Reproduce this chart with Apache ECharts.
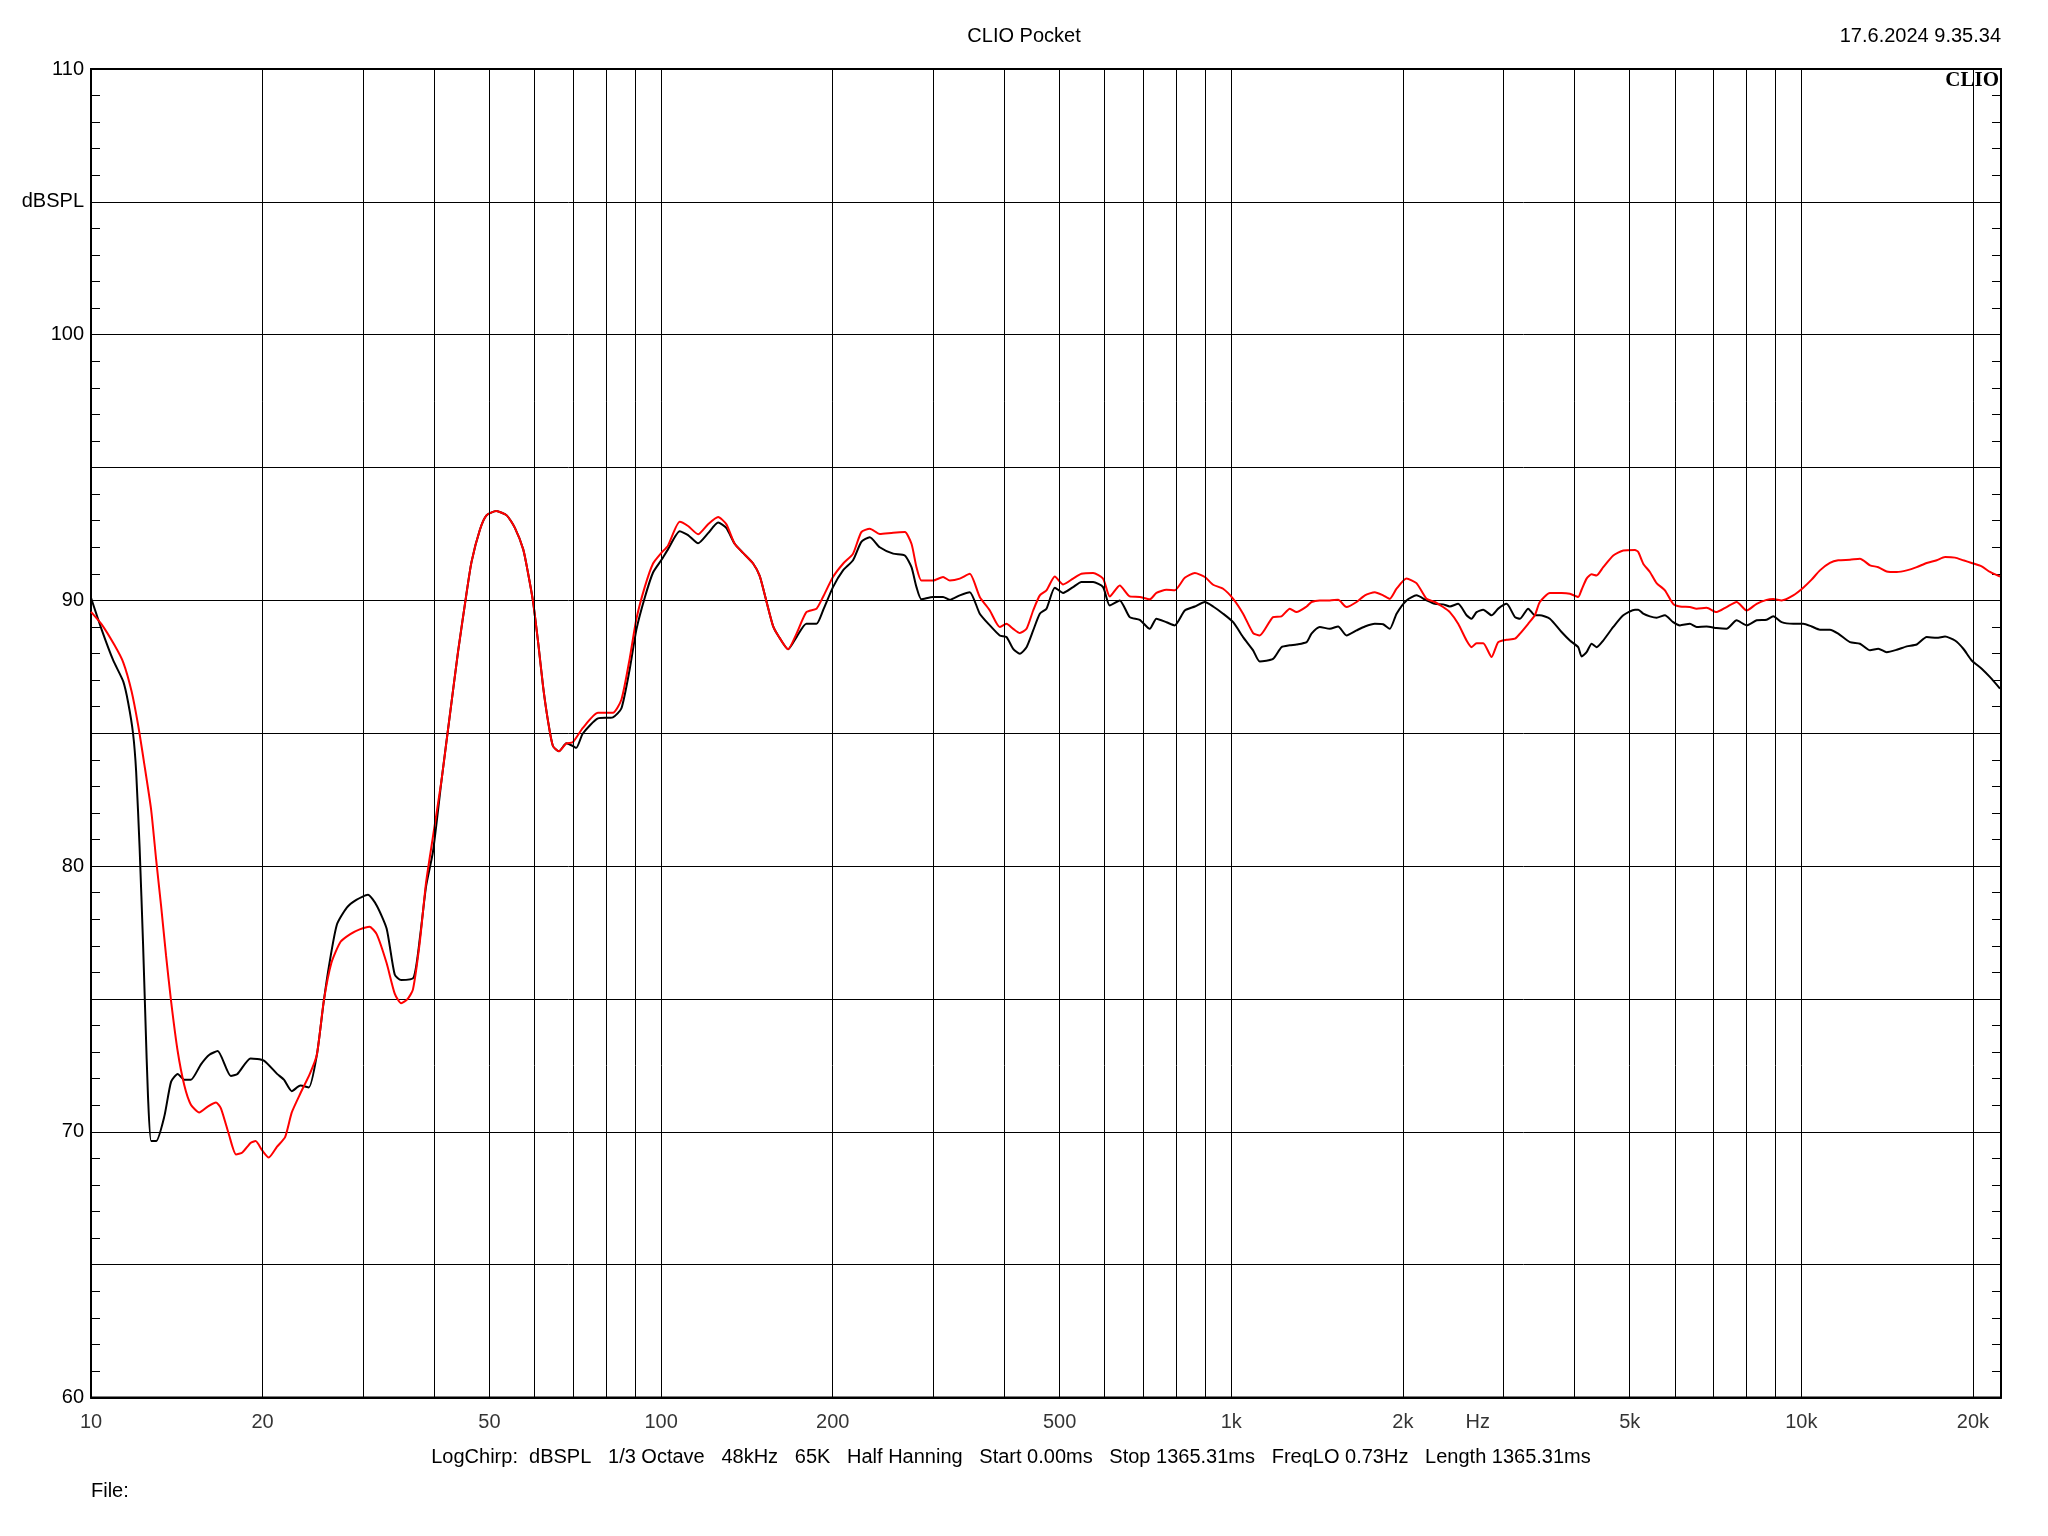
<!DOCTYPE html>
<html>
<head>
<meta charset="utf-8">
<script src="https://cdn.jsdelivr.net/npm/echarts@6/dist/echarts.min.js"></script>
<style>
html,body{margin:0;padding:0;background:#fff;}
#chart{width:2048px;height:1536px;}
</style>
</head>
<body>
<div id="chart"></div>
<script>
// ---- Data ----
const blackFreq = [10,10.44,10.94,11.39,11.62,11.85,12.0,12.17,12.34,12.46,12.59,12.75,13.01,13.45,13.82,14.19,14.58,14.97,15.59,16.13,16.68,17.59,18.07,19.05,20.1,21.2,21.8,22.5,23.3,24.1,24.9,25.6,26.2,27.0,28.1,29.2,30.6,31.7,33.0,34.1,35.0,36.8,37.8,38.7,39.8,41.2,42.6,44.05,45.55,46.5,48.1,49.4,51.4,53.6,55.4,57.3,58.4,59.6,60.9,62.1,63.4,64.6,66.2,68.2,70.0,71.0,72.9,77.5,82.3,85.2,88.1,90.5,93.6,96.8,100.1,102.8,107.8,111.5,116.1,120.9,125.9,130.1,134.6,139.2,145.0,148.9,153.0,157.2,160.3,167.0,172.8,179.8,187.3,192.3,200.2,208.5,217.1,224.5,232.3,241.8,255.3,267.6,274.9,280.5,286.2,299.9,312.3,320.9,334.1,347.8,362.2,377.2,392.6,403.4,414.5,425.8,437.5,449.4,461.6,474.2,490.4,507.2,528,546.1,572.4,596,612.3,637.5,663.7,691.2,719.6,739.3,769.7,796.1,829,863.4,898.9,929.5,967.8,1008,1049,1092.5,1122,1184,1225,1267,1302,1356,1383,1430,1489,1540,1593,1659,1716,1786,1847,1897,1950,2030,2113,2201,2276,2353,2418,2501,2587,2640,2694,2767,2862,2940,3041,3146,3210,3318,3409,3478,3622,3797,3927,4061,4117,4201,4287,4374,4493,4679,4872,5107,5176,5281,5425,5573,5764,5959,6124,6375,6551,6820,7101,7393,7701,8017,8349,8692,8929,9235,9679,10078,10424,10780,11224,11607,12170,12671,13198,13647,14116,14701,15307,15937,16592,17277,17868,18601,19238,19900,20720,21430,22310];
const blackDb = [90.1,88.9,87.74,86.95,86.15,85.0,83.56,80.68,77.07,74.19,71.31,69.65,69.65,70.59,71.89,72.18,71.96,71.96,72.54,72.9,73.04,72.1,72.18,72.76,72.68,72.18,71.96,71.53,71.74,71.67,72.9,74.91,76.35,77.8,78.44,78.73,78.92,78.52,77.65,75.92,75.71,75.8,77.4,79.24,80.55,83.24,85.67,88.09,90.24,91.45,92.66,93.2,93.36,93.2,92.73,91.92,91.05,89.97,88.36,86.74,85.4,84.52,84.32,84.62,84.52,84.45,84.99,85.56,85.6,85.94,87.42,88.9,90.1,91.05,91.52,91.92,92.6,92.46,92.15,92.53,92.93,92.73,92.13,91.79,91.39,90.92,89.97,89.03,88.69,88.16,88.62,89.12,89.12,89.62,90.5,91.13,91.51,92.2,92.38,92.0,91.76,91.69,91.25,90.5,90.04,90.13,90.13,90.02,90.19,90.31,89.5,89.06,88.68,88.62,88.18,87.99,88.24,88.87,89.5,89.69,90.48,90.28,90.5,90.69,90.69,90.5,89.81,90.0,89.37,89.27,88.93,89.31,89.18,89.06,89.62,89.77,89.94,89.77,89.5,89.18,88.62,88.12,87.7,87.8,88.24,88.31,88.34,88.43,88.75,89.0,88.93,89.02,88.68,88.87,89.02,89.12,89.1,88.93,89.5,90.0,90.19,90.0,89.87,89.85,89.77,89.87,89.44,89.31,89.56,89.65,89.44,89.69,89.87,89.37,89.31,89.69,89.44,89.44,89.31,88.81,88.49,88.24,87.89,88.05,88.37,88.24,88.49,89.0,89.44,89.65,89.65,89.5,89.4,89.35,89.44,89.18,89.06,89.12,89.0,89.02,88.96,88.93,89.25,89.06,89.25,89.27,89.4,89.18,89.12,89.12,89.02,88.9,88.9,88.75,88.43,88.37,88.12,88.18,88.05,88.14,88.27,88.34,88.62,88.59,88.64,88.49,88.18,87.74,87.43,87.11,86.68];

const redFreq = [10,10.44,11.0,11.39,11.78,12.1,12.4,12.75,13.01,13.27,13.54,13.82,14.19,14.58,14.97,15.48,16.02,16.57,16.9,17.47,17.96,18.43,19.05,19.44,19.98,20.5,21.2,21.9,22.5,23.3,24.2,24.9,25.6,26.4,27.4,28.5,29.6,30.8,31.7,33.0,34.1,35.0,35.9,36.7,37.7,38.7,39.7,41.2,42.6,44.05,45.55,46.5,48.1,49.4,51.4,53.6,55.4,57.3,58.4,59.6,60.9,62.1,63.4,64.6,66.2,68.2,70.0,72.9,77.5,82.3,85.2,88.1,90.5,93.6,96.8,100.1,102.8,107.8,111.5,116.1,120.9,125.9,130.1,134.6,139.2,145.0,148.9,153.0,157.2,160.3,167.0,172.8,179.8,187.3,192.3,200.2,208.5,217.1,224.5,232.3,241.8,255.3,267.6,274.9,280.5,286.2,299.9,312.3,320.9,334.1,347.8,362.2,377.2,392.6,403.4,414.5,425.8,437.5,449.4,461.6,474.2,490.4,507.2,528,546.1,572.4,596,612.3,637.5,663.7,691.2,719.6,739.3,769.7,796.1,829,863.4,898.9,929.5,967.8,1008,1049,1092.5,1122,1184,1225,1267,1302,1356,1383,1430,1489,1540,1593,1659,1716,1786,1847,1897,1950,2030,2113,2201,2276,2353,2418,2501,2587,2640,2694,2767,2862,2940,3041,3146,3210,3318,3409,3478,3622,3797,3927,4061,4117,4201,4287,4374,4493,4679,4872,5107,5176,5281,5425,5573,5764,5959,6124,6375,6551,6820,7101,7393,7701,8017,8349,8692,8929,9235,9679,10078,10424,10780,11224,11607,12170,12671,13198,13647,14116,14701,15307,15937,16592,17277,17868,18601,19238,19900,20720,21430,22310];
const redDb = [89.57,89.1,88.31,87.67,86.58,85.29,83.85,82.12,80.24,78.52,76.64,74.91,73.04,71.74,71.02,70.73,70.95,71.1,70.88,69.87,69.15,69.22,69.58,69.65,69.29,69.03,69.44,69.8,70.73,71.45,72.18,72.9,74.91,76.35,77.15,77.44,77.62,77.72,77.44,76.35,75.2,74.84,74.99,75.35,77.07,79.38,80.97,83.24,85.67,88.09,90.24,91.45,92.66,93.2,93.36,93.2,92.73,91.92,91.05,89.97,88.36,86.74,85.4,84.52,84.32,84.62,84.66,85.2,85.77,85.77,86.27,87.82,89.3,90.5,91.39,91.79,92.06,92.96,92.8,92.49,92.87,93.14,92.87,92.13,91.79,91.39,90.92,89.97,89.03,88.69,88.16,88.75,89.56,89.69,90.13,90.88,91.38,91.76,92.57,92.7,92.5,92.55,92.57,92.13,91.25,90.75,90.75,90.88,90.75,90.82,91.0,90.13,89.62,89.0,89.12,88.93,88.77,88.93,89.62,90.19,90.38,90.9,90.6,90.82,91.0,91.03,90.82,90.15,90.56,90.15,90.13,90.04,90.28,90.4,90.38,90.85,91.03,90.88,90.59,90.44,90.06,89.5,88.77,88.68,89.37,89.4,89.69,89.56,89.77,89.94,90.0,90.0,90.02,89.75,89.94,90.19,90.31,90.19,90.06,90.44,90.82,90.65,90.06,89.94,89.75,89.56,89.12,88.49,88.24,88.39,88.39,87.87,88.43,88.52,88.56,88.75,89.12,89.44,89.94,90.28,90.28,90.25,90.13,90.4,90.82,90.98,90.94,91.25,91.69,91.88,91.9,91.82,91.38,91.07,90.65,90.38,89.87,89.77,89.75,89.69,89.72,89.56,89.75,89.94,89.62,89.87,90.02,90.05,90.0,90.19,90.48,90.78,91.13,91.41,91.51,91.53,91.57,91.32,91.25,91.09,91.07,91.13,91.25,91.41,91.51,91.63,91.61,91.51,91.41,91.28,91.07,90.9];

// vertical grid lines between the decades
const gridFreqs = [20,30,40,50,60,70,80,90,200,300,400,500,600,700,800,900,2000,3000,4000,5000,6000,7000,8000,9000,20000];
// x tick labels
const xLabelFreqs = [10,20,50,100,200,500,1000,2000,2707,5000,10000,20000];
const xLabelTexts = ['10','20','50','100','200','500','1k','2k','Hz','5k','10k','20k'];

const FONT = '"Liberation Sans", Arial, sans-serif';
const FS = 20;
const chart = echarts.init(document.getElementById('chart'), null, {renderer:'canvas'});

const yCommon = {
  type:'value', min:60, max:110, interval:5,
  axisLine:{show:true, lineStyle:{color:'#000', width:2}},
  axisTick:{show:true, inside:true, length:9, lineStyle:{color:'#000', width:1}},
  minorTick:{show:true, splitNumber:5, length:9, lineStyle:{color:'#000', width:1}},
};

const option = {
  animation:false,
  backgroundColor:'#fff',
  grid:{left:91, top:69, width:1910, height:1328.5, show:true, borderColor:'#000', borderWidth:2, backgroundColor:'transparent'},
  xAxis:{
    type:'log', logBase:10, min:10, max:22400,
    axisLine:{show:true, lineStyle:{color:'#000', width:2}},
    axisTick:{show:false},
    axisLabel:{show:false},
    splitLine:{show:true, lineStyle:{color:'#000', width:1}},
    minorSplitLine:{show:false}
  },
  yAxis:[
    Object.assign({}, yCommon, {
      position:'left',
      splitLine:{show:true, lineStyle:{color:'#000', width:1}},
      axisLabel:{show:true, margin:7, color:'#000', fontSize:FS, fontFamily:FONT,
        formatter:function(v){ if (v===105) return 'dBSPL'; return (v%10===0) ? String(v) : ''; }}
    }),
    Object.assign({}, yCommon, {
      position:'right',
      splitLine:{show:false},
      axisLabel:{show:false}
    })
  ],
  series:[
    {
      type:'line', name:'black', xAxisIndex:0, yAxisIndex:0,
      data: blackFreq.map((f,i)=>[f, blackDb[i]]),
      showSymbol:false, symbol:'none', smooth:0.2,
      lineStyle:{color:'#000', width:2},
      itemStyle:{color:'#000'},
      silent:true, z:3,
      markLine:{
        silent:true, symbol:['none','none'], animation:false,
        label:{show:false},
        lineStyle:{color:'#000', width:1, type:'solid'},
        emphasis:{disabled:true},
        data: gridFreqs.map(f=>({xAxis:f}))
      }
    },
    {
      type:'line', name:'red', xAxisIndex:0, yAxisIndex:0,
      data: redFreq.map((f,i)=>[f, redDb[i]]),
      showSymbol:false, symbol:'none', smooth:0.2,
      lineStyle:{color:'#ff0000', width:2},
      itemStyle:{color:'#ff0000'},
      silent:true, z:4
    },
    {
      type:'scatter', name:'xlabels', clip:false, silent:true,
      symbolSize:0,
      itemStyle:{color:'transparent'},
      data: xLabelFreqs.map((f,i)=>({value:[f,60], name:xLabelTexts[i]})),
      label:{show:true, position:'bottom', distance:15, color:'#000', fontSize:FS, fontFamily:FONT,
        formatter:function(p){ return p.name; }}
    }
  ],
  graphic:[
    {type:'text', x:1024, y:36, style:{text:'CLIO Pocket', fontSize:FS, fontFamily:FONT, fill:'#000', align:'center', verticalAlign:'middle'}},
    {type:'text', x:2001, y:36, style:{text:'17.6.2024 9.35.34', fontSize:FS, fontFamily:FONT, fill:'#000', align:'right', verticalAlign:'middle'}},
    {type:'text', x:1999, y:81, z:100, style:{text:'CLIO', fontSize:21, fontWeight:'bold', fontFamily:'"Liberation Serif", serif', fill:'#000', align:'right', verticalAlign:'middle'}},
    {type:'text', x:1011, y:1457, style:{text:'LogChirp:  dBSPL   1/3 Octave   48kHz   65K   Half Hanning   Start 0.00ms   Stop 1365.31ms   FreqLO 0.73Hz   Length 1365.31ms', fontSize:FS, fontFamily:FONT, fill:'#000', align:'center', verticalAlign:'middle'}},
    {type:'text', x:91, y:1491, style:{text:'File:', fontSize:FS, fontFamily:FONT, fill:'#000', align:'left', verticalAlign:'middle'}}
  ]
};
chart.setOption(option);
</script>
</body>
</html>
